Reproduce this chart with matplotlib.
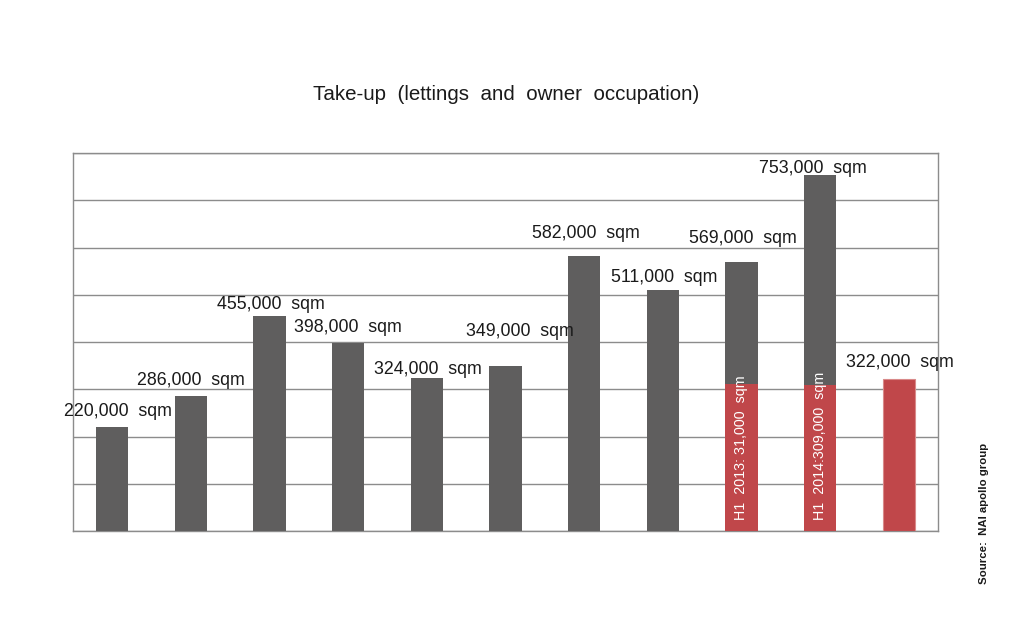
import matplotlib
matplotlib.use("Agg")
import matplotlib.pyplot as plt
import numpy as np

plt.rcParams['font.family'] = ['Liberation Sans', 'DejaVu Sans']

# ---- data ----
totals = [220000, 286000, 455000, 398000, 324000, 349000, 582000, 511000, 569000, 753000, 322000]
h1_part = [0, 0, 0, 0, 0, 0, 0, 0, 311000, 309000, 322000]
value_labels = ["220,000  sqm", "286,000  sqm", "455,000  sqm", "398,000  sqm", "324,000  sqm",
                "349,000  sqm", "582,000  sqm", "511,000  sqm", "569,000  sqm", "753,000  sqm",
                "322,000  sqm"]
inner_labels = {8: "H1  2013: 31,000  sqm", 9: "H1  2014:309,000  sqm"}
title = "Take-up  (lettings  and  owner  occupation)"
source = "Source:  NAI apollo group"

# label placement offsets (points): dx, dy above bar top
label_dx = [4, 0, 1, 0, 1, 10, 1, 1, 1, -5, 1]
label_dy = [11, 11, 8, 11, 6, 25, 16, 9, 17, 5, 12]

GRAY = '#5f5e5e'
RED = '#c0474a'
GRID = '#8c8c8c'

fig = plt.figure(figsize=(10.24, 6.29), dpi=100)
ax = fig.add_axes([73/1024, 1 - 531/629, (938-73)/1024, (531-153)/629])

x = np.arange(len(totals))
w = 0.41
rest = [t - h for t, h in zip(totals, h1_part)]
ax.bar(x, h1_part, width=w, color=RED, zorder=3,
       edgecolor=['none'] * 10 + ['#d98a8a'], linewidth=0.8)
ax.bar(x, rest, bottom=h1_part, width=w, color=GRAY, zorder=3)

ax.set_xlim(-0.5, len(totals) - 0.5)
ax.set_ylim(0, 800000)
ax.set_yticks(np.arange(0, 800001, 100000))
ax.yaxis.grid(True, color=GRID, linewidth=1.0, zorder=0)
ax.tick_params(left=False, bottom=False, labelleft=False, labelbottom=False)
for s in ax.spines.values():
    s.set_color(GRID)
    s.set_linewidth(1.0)

for i, (t, lab) in enumerate(zip(totals, value_labels)):
    ax.annotate(lab, (x[i], t), xytext=(label_dx[i], label_dy[i]), textcoords='offset points',
                ha='center', va='center', fontsize=12.8, color='#1a1a1a', zorder=5)

for i, lab in inner_labels.items():
    ax.annotate(lab, (x[i], 0), xytext=(0, 8), textcoords='offset points',
                ha='center', va='bottom', rotation=90, fontsize=10.3, color='white', zorder=5)

fig.text(506/1024, 1 - 95/629, title, ha='center', va='center', fontsize=14.8, color='#1a1a1a')
fig.text(984/1024, 1 - 513/629, source, ha='center', va='center', rotation=90,
         fontsize=8.2, fontweight='bold', color='#1a1a1a')

fig.savefig('out.png', dpi=100)
